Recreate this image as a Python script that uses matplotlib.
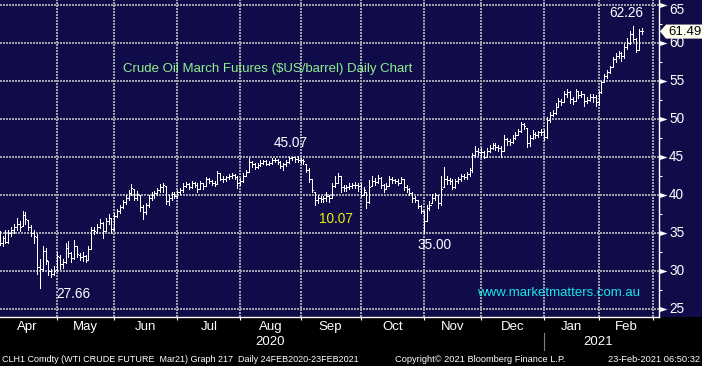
import numpy as np
import pandas as pd
import matplotlib
matplotlib.use("Agg")
import matplotlib.pyplot as plt
from matplotlib.collections import LineCollection
from matplotlib.patches import Polygon, Rectangle
import matplotlib.transforms as mtransforms

plt.rcParams['font.family'] = ['Liberation Sans', 'DejaVu Sans']

# ---------------- data ----------------
holidays = ['2020-04-10', '2020-05-25', '2020-07-03', '2020-09-07', '2020-11-26',
            '2020-12-25', '2021-01-01', '2021-01-18', '2021-02-15']
axis_dates = pd.bdate_range('2020-04-01', '2021-03-01')
axis_dates = axis_dates[~axis_dates.isin(pd.to_datetime(holidays))]

opens = [34.0, 34.2, 33.6, 34.3, 33.8, 35.0, 35.3, 35.7, 36.2, 35.9, 37.3, 36.7, 35.8, 35.0, 34.4,
         30.5, 30.2, 32.6, 31.3, 30.0, 29.6, 30.1, 31.8, 30.9, 31.2, 33.0, 32.3, 31.7, 33.2, 32.1,
         31.8, 31.9, 31.4, 32.9, 35.3, 35.1, 35.8, 36.3, 35.2, 36.5, 36.9, 35.5, 37.2, 37.8, 38.4,
         39.0, 39.5, 40.2, 40.8, 39.6, 40.0, 38.4, 37.7, 38.6, 39.6, 40.0, 40.2, 40.6, 41.0, 41.2,
         39.2, 39.6, 40.1, 39.8, 40.3, 40.6, 41.2, 41.4, 41.0, 41.5, 41.3, 40.8, 41.5, 41.1, 42.0,
         41.8, 41.6, 41.4, 42.8, 42.1, 42.0, 42.3, 42.4, 42.6, 42.3, 41.5, 41.8, 42.5, 43.0, 44.3,
         44.0, 43.7, 43.9, 44.2, 44.4, 44.1, 44.2, 44.6, 44.6, 44.3, 43.8, 44.0, 44.3, 44.8, 44.9,
         44.7, 44.6, 44.5, 44.1, 43.3, 42.0, 40.4, 39.3, 39.5, 39.4, 39.6, 39.8, 39.6, 41.2, 41.6,
         42.4, 41.0, 40.9, 41.0, 41.1, 41.3, 41.3, 41.1, 40.0, 40.3, 39.0, 41.1, 41.8, 41.7, 42.2,
         41.3, 40.8, 41.2, 42.0, 41.9, 41.8, 41.6, 42.0, 41.0, 40.8, 40.2, 39.5, 39.3, 38.5, 37.8,
         36.6, 38.3, 38.9, 39.6, 39.9, 38.9, 41.0, 42.0, 41.9, 41.8, 41.0, 41.8, 42.0, 42.4, 42.3,
         42.7, 43.2, 45.2, 45.8, 45.6, 45.6, 45.0, 45.7, 46.2, 46.5, 46.3, 46.2, 45.8, 47.3, 47.0,
         46.9, 47.5, 47.9, 48.4, 49.3, 48.8, 46.8, 47.5, 48.0, 47.8, 48.2, 48.3, 47.6, 49.8, 50.5,
         50.8, 51.6, 52.3, 52.2, 53.2, 53.5, 52.6, 52.3, 53.6, 53.1, 53.2, 52.3, 52.5, 52.9, 52.8,
         52.2, 53.5, 54.8, 55.6, 56.1, 56.8, 57.8, 58.3, 58.6, 58.2, 59.4, 60.0, 61.1, 60.5, 59.1,
         61.6]
highs = [35.0, 35.2, 34.6, 35.3, 35.3, 35.8, 36.2, 36.9, 36.5, 37.8, 37.7, 36.7, 36.0, 35.3, 34.8,
         31.6, 33.3, 33.0, 31.0, 30.2, 30.6, 32.4, 32.0, 31.6, 33.6, 33.9, 32.5, 34.0, 33.3, 32.3,
         32.4, 32.0, 33.2, 35.8, 35.7, 36.1, 36.8, 36.4, 36.9, 37.5, 36.9, 37.6, 38.1, 38.7, 39.3,
         39.9, 40.6, 41.4, 40.8, 40.5, 40.0, 38.6, 38.9, 40.0, 40.3, 40.5, 40.9, 41.4, 41.6, 41.2,
         40.0, 40.4, 40.4, 40.6, 40.9, 41.5, 41.7, 41.6, 41.8, 41.7, 41.5, 41.8, 41.6, 42.3, 42.2,
         41.9, 41.8, 43.1, 42.8, 42.4, 42.5, 42.7, 42.9, 42.7, 42.4, 42.2, 42.8, 43.3, 44.8, 44.4,
         44.2, 44.2, 44.5, 44.6, 44.5, 44.4, 44.8, 44.8, 44.7, 44.4, 44.2, 44.5, 45.0, 45.0, 45.0,
         45.07, 44.8, 44.7, 44.1, 43.5, 42.0, 40.4, 39.9, 39.8, 39.8, 40.3, 39.9, 41.6, 42.4, 42.9,
         42.4, 41.3, 41.3, 41.5, 41.6, 41.7, 41.5, 41.5, 41.0, 40.3, 41.9, 42.4, 42.2, 42.6, 42.3,
         41.4, 41.6, 42.4, 42.3, 42.1, 42.0, 42.3, 42.1, 41.3, 40.9, 40.3, 39.8, 39.3, 38.7, 37.9,
         38.6, 39.2, 40.1, 40.2, 40.0, 42.5, 43.6, 42.4, 42.2, 42.0, 42.1, 42.3, 42.7, 42.7, 43.0,
         43.5, 45.5, 46.4, 46.2, 46.1, 45.8, 46.1, 46.6, 46.8, 46.8, 46.6, 46.4, 47.8, 47.5, 47.3,
         47.8, 48.2, 48.7, 49.5, 49.4, 48.8, 47.8, 48.5, 48.3, 48.4, 48.6, 48.5, 50.2, 50.9, 51.1,
         52.0, 52.7, 52.6, 53.6, 53.9, 53.6, 52.8, 53.9, 53.6, 53.6, 53.3, 52.9, 53.3, 53.3, 53.1,
         53.7, 55.0, 55.9, 56.4, 57.0, 58.1, 58.6, 58.9, 58.8, 59.8, 60.6, 61.5, 62.26, 60.6, 61.8,
         61.9]
lows = [33.4, 33.4, 33.3, 33.6, 33.6, 34.6, 35.0, 35.4, 35.2, 35.9, 36.2, 35.3, 34.5, 33.7, 29.6,
        27.66, 29.9, 30.9, 29.4, 29.2, 29.4, 30.0, 30.2, 30.4, 31.0, 31.8, 31.2, 31.6, 31.8, 31.4,
        31.3, 31.1, 31.4, 32.8, 34.8, 35.0, 35.6, 34.3, 35.2, 36.2, 35.0, 35.3, 37.0, 37.6, 38.2,
        38.8, 39.3, 39.9, 39.3, 39.3, 37.8, 36.8, 37.4, 38.4, 39.3, 39.6, 39.9, 40.3, 40.4, 38.8,
        38.7, 39.3, 39.5, 39.6, 40.1, 40.4, 41.0, 40.8, 40.9, 41.0, 40.3, 40.7, 40.8, 41.1, 41.5,
        41.3, 41.1, 41.4, 41.9, 41.7, 41.8, 42.0, 42.2, 42.0, 40.9, 41.3, 41.7, 42.4, 43.0, 43.7,
        43.4, 43.5, 43.8, 44.0, 43.9, 43.9, 44.1, 44.3, 44.0, 43.5, 43.3, 43.8, 44.2, 44.5, 44.3,
        44.3, 44.2, 44.0, 43.0, 41.7, 40.3, 38.7, 38.9, 39.0, 39.1, 39.2, 39.1, 39.6, 41.0, 41.6,
        40.4, 40.5, 40.5, 40.7, 40.9, 40.9, 40.5, 39.8, 39.9, 38.2, 38.9, 41.1, 41.3, 41.6, 40.9,
        40.4, 40.7, 41.2, 41.6, 41.5, 41.3, 41.5, 40.6, 40.4, 39.9, 39.1, 39.0, 38.2, 37.6, 35.0,
        36.6, 38.0, 38.9, 39.3, 38.3, 38.6, 41.0, 41.4, 41.4, 40.7, 40.9, 41.6, 41.8, 42.0, 42.1,
        42.5, 43.0, 45.0, 45.2, 45.0, 44.8, 44.9, 45.6, 46.0, 45.9, 45.8, 45.0, 45.8, 46.6, 46.5,
        46.8, 47.3, 47.8, 48.3, 48.6, 46.3, 46.4, 47.3, 47.5, 47.6, 47.8, 47.2, 47.5, 49.6, 50.4,
        50.6, 51.6, 51.8, 52.2, 52.9, 52.0, 51.9, 52.3, 52.7, 52.8, 51.7, 52.0, 52.3, 52.2, 51.7,
        51.8, 53.4, 54.8, 55.4, 56.0, 56.8, 57.5, 58.0, 57.6, 58.0, 59.2, 59.8, 60.2, 58.8, 59.1,
        61.2]
closes = [34.2, 33.6, 34.3, 33.8, 35.0, 35.3, 35.7, 36.2, 35.8, 37.3, 36.8, 35.8, 35.0, 34.5, 30.5,
          30.2, 32.6, 31.4, 30.0, 29.6, 30.0, 31.9, 30.9, 31.1, 33.0, 32.3, 31.7, 33.2, 32.2, 31.8,
          31.9, 31.4, 32.8, 35.3, 35.2, 35.8, 36.3, 35.2, 36.5, 36.9, 35.5, 37.2, 37.8, 38.4, 39.0,
          39.5, 40.2, 40.9, 39.6, 40.1, 38.4, 37.7, 38.6, 39.6, 40.0, 40.2, 40.6, 41.0, 41.3, 39.2,
          39.6, 40.1, 39.8, 40.3, 40.6, 41.2, 41.4, 41.0, 41.5, 41.3, 40.8, 41.5, 41.1, 42.0, 41.8,
          41.6, 41.4, 42.8, 42.1, 42.0, 42.3, 42.4, 42.6, 42.3, 41.5, 41.8, 42.5, 43.0, 44.3, 44.0,
          43.7, 43.9, 44.2, 44.4, 44.1, 44.2, 44.6, 44.6, 44.3, 43.8, 44.0, 44.3, 44.8, 44.9, 44.7,
          44.6, 44.5, 44.4, 43.3, 42.0, 40.6, 39.3, 39.5, 39.4, 39.6, 39.8, 39.5, 41.2, 41.6, 42.5,
          41.0, 40.9, 41.0, 41.1, 41.3, 41.3, 41.1, 40.0, 40.6, 39.0, 41.0, 41.8, 41.7, 42.2, 41.3,
          40.8, 41.2, 42.0, 41.9, 41.8, 41.6, 42.0, 41.0, 40.8, 40.2, 39.5, 39.3, 38.5, 37.8, 36.5,
          38.3, 38.7, 39.6, 39.9, 38.9, 40.8, 42.0, 41.9, 41.8, 41.0, 41.8, 42.0, 42.4, 42.3, 42.7,
          43.2, 45.2, 45.8, 45.6, 45.6, 45.0, 45.7, 46.2, 46.5, 46.3, 46.2, 45.8, 47.3, 47.0, 46.9,
          47.5, 47.9, 48.4, 49.3, 49.0, 46.8, 47.5, 48.0, 47.8, 48.2, 48.2, 47.6, 49.8, 50.5, 50.8,
          51.6, 52.3, 52.2, 53.2, 53.5, 52.6, 52.3, 53.6, 53.1, 53.2, 52.3, 52.5, 52.9, 52.8, 52.2,
          53.5, 54.8, 55.6, 56.1, 56.8, 57.8, 58.3, 58.6, 58.2, 59.4, 60.0, 61.1, 60.5, 59.1, 61.6,
          61.49]

month_labels = ['Apr', 'May', 'Jun', 'Jul', 'Aug', 'Sep', 'Oct', 'Nov', 'Dec', 'Jan', 'Feb']
year_labels = ['2020', '2021']
y_ticks = [25, 30, 35, 40, 45, 50, 55, 60, 65]
last_price = 61.49

# ---------------- styling ----------------
W, H = 702, 366
NAVY = '#100C4A'
GRID = '#A0A0AC'

fig = plt.figure(figsize=(W / 100, H / 100), dpi=100, facecolor='black')
ax_bottom_px = 316.5
ax_right_px = 659
fig.patches.append(Rectangle((0, (H - ax_bottom_px) / H), 1, ax_bottom_px / H,
                             transform=fig.transFigure, facecolor=NAVY, edgecolor='none', zorder=-10))
ax = fig.add_axes([0, (H - ax_bottom_px) / H, ax_right_px / W, ax_bottom_px / H])
ax.set_facecolor(NAVY)

n = len(closes)
x = np.arange(n)

months = axis_dates.to_period('M')
starts = [0] + [i for i in range(1, len(axis_dates)) if months[i] != months[i - 1]]
x0, x1 = 1.12, 231.1
y0, y1 = 23.97, 65.62
ax.set_xlim(x0, x1)
ax.set_ylim(y0, y1)
px_x = (x1 - x0) / ax_right_px
px_y = (y1 - y0) / ax_bottom_px

# dotted grid drawn as rows / columns of small square dots
hx = np.arange(x0 + px_x, x1, 3 * px_x)
for yv in y_ticks:
    ax.plot(hx, np.full(len(hx), yv), ls='none', marker='s', ms=1.55, mew=0,
            color=GRID, zorder=2.8)
vy = np.arange(y0 + px_y, y1, 3 * px_y)
for s in starts[1:]:
    ax.plot(np.full(len(vy), s), vy, ls='none', marker='s', ms=1.55, mew=0,
            color=GRID, zorder=2.8)

# OHLC bars
segs = []
tw = 0.36
for i in range(n):
    lo = min(lows[i], opens[i], closes[i])
    hi = max(highs[i], opens[i], closes[i])
    segs.append([(x[i], lo), (x[i], hi)])
    segs.append([(x[i] - tw, opens[i]), (x[i], opens[i])])
    segs.append([(x[i], closes[i]), (x[i] + tw, closes[i])])
lc = LineCollection(segs, colors='white', linewidths=0.6, antialiaseds=False, zorder=3)
ax.add_collection(lc)

for sp in ['top', 'left']:
    ax.spines[sp].set_visible(False)
ax.spines['bottom'].set_color('white')
ax.spines['right'].set_color('white')
ax.spines['bottom'].set_linewidth(1.0)
ax.spines['right'].set_linewidth(1.0)

ax.set_xticks(starts[1:])
ax.set_xticklabels([])
ax.tick_params(axis='x', which='major', direction='out', length=2.5, width=0.8, color='white')

ax.yaxis.tick_right()
ax.set_yticks(y_ticks)
ax.set_yticklabels([])
ax.set_yticks(np.arange(27.5, 65, 5), minor=True)
ax.tick_params(axis='y', which='major', length=0)
ax.tick_params(axis='y', which='minor', direction='out', length=2.5, width=0.8, color='white')

bt = mtransforms.blended_transform_factory(ax.transData, ax.transAxes)
for k, lab in enumerate(month_labels):
    c = (starts[k] + starts[k + 1]) / 2
    ax.text(c, -0.033, lab, transform=bt, ha='center', va='center', color='white',
            fontsize=9.5, clip_on=False)
jan_idx = starts[9]
ax.text((starts[0] + jan_idx) / 2, -0.081, year_labels[0], transform=bt, ha='center', va='center',
        color='white', fontsize=9.5, clip_on=False)
ax.text((jan_idx + starts[11]) / 2, -0.081, year_labels[1], transform=bt, ha='center', va='center',
        color='white', fontsize=9.5, clip_on=False)
ax.plot([jan_idx, jan_idx], [-0.052, -0.106], transform=bt, color='#808080', lw=0.8, clip_on=False)

rt = mtransforms.blended_transform_factory(ax.transAxes, ax.transData)
tri = [(0, -1), (3, 0), (0, 1), (0, -1)]
ax.plot([1.0] * len(y_ticks), y_ticks, transform=rt, ls='none', marker=tri, ms=11.5,
        color='white', mec='none', clip_on=False, zorder=5)
for yv in y_ticks:
    yy = yv if yv < 65 else 64.3
    ax.text(1.0152, yy, str(yv), transform=rt, ha='left', va='center', color='white',
            fontsize=9.8, clip_on=False)

poly = Polygon([(1.0015, last_price), (1.0106, last_price + 0.9), (1.07, last_price + 0.9),
                (1.07, last_price - 0.95), (1.0106, last_price - 0.95)], closed=True,
               transform=rt, facecolor='#FFFFF0', edgecolor='none', clip_on=False, zorder=6)
ax.add_patch(poly)
ax.text(1.0135, last_price - 0.05, f'{last_price:.2f}', transform=rt, ha='left', va='center',
        color='black', fontsize=9.5, clip_on=False, zorder=7)

def fp(px, py):
    return px / W, 1 - py / H

fig.text(*fp(123, 69), 'Crude Oil March Futures ($US/barrel) Daily Chart', color='#8FF08F',
         fontsize=9.5, ha='left', va='center')
fig.text(*fp(291, 143), '45.07', color='white', fontsize=9.8, ha='center', va='center')
fig.text(*fp(336, 219), '10.07', color='#EEEE00', fontsize=9.8, ha='center', va='center')
fig.text(*fp(73, 294), '27.66', color='white', fontsize=9.8, ha='center', va='center')
fig.text(*fp(434, 245), '35.00', color='white', fontsize=9.8, ha='center', va='center')
fig.text(*fp(626, 13), '62.26', color='white', fontsize=9.8, ha='center', va='center')
fig.text(*fp(640, 293), 'www.marketmatters.com.au', color='#19E6E6', fontsize=9.5,
         ha='right', va='center')

fig.text(*fp(2, 359), 'CLH1 Comdty (WTI CRUDE FUTURE  Mar21) Graph 217  Daily 24FEB2020-23FEB2021',
         color='white', fontsize=6.5, ha='left', va='center')
fig.text(*fp(395, 359), 'Copyright© 2021 Bloomberg Finance L.P.', color='white', fontsize=6.7,
         ha='left', va='center')
fig.text(*fp(700, 359), '23-Feb-2021 06:50:32', color='white', fontsize=6.7, ha='right', va='center')

fig.savefig('out.png', dpi=100, facecolor='black')
